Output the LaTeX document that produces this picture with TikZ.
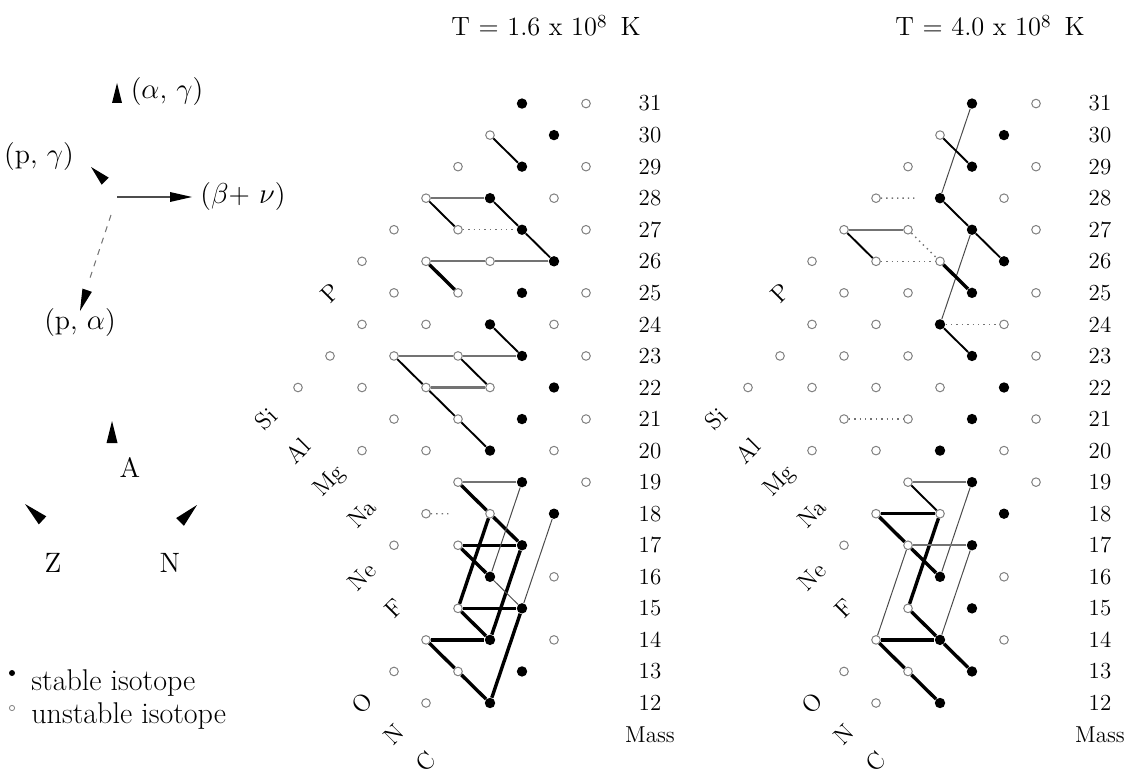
\documentclass[tikz,border=0pt]{standalone}
\usetikzlibrary{calc}
\tikzset{
 stab/.style={circle, fill=black, inner sep=0pt, minimum size=5.2pt},
 unst/.style={circle, draw=black!50, line width=0.5pt, inner sep=0pt, minimum size=4.3pt},
 thk/.style={line width=1.7pt},
 med/.style={line width=0.95pt},
 hz/.style={line width=1.15pt, draw=black!55},
 thn/.style={line width=0.5pt, draw=black!70},
 dotl/.style={line width=0.7pt, draw=black!55, dotted},
 masslbl/.style={font=\fontsize{11.5}{13}\selectfont, inner sep=0pt},
 elem/.style={font=\fontsize{12}{14}\selectfont, rotate=45, inner sep=0pt},
 leg/.style={font=\fontsize{14}{16}\selectfont, inner sep=0pt},
 legiso/.style={font=\fontsize{15}{17}\selectfont, inner sep=0pt, anchor=base west},
 ttl/.style={font=\fontsize{13.2}{15}\selectfont, inner sep=0pt, anchor=base},
}
\newcommand{\legtri}[4]{\fill[shift={(#1)}, rotate=#2] (0,0) -- (-#3,#4) -- (-#3,-#4) -- cycle;}
\newcommand{\isopanel}[2]{%
\begin{scope}[shift={(#2,703)}, x=16pt, y=15.775pt]
\foreach \ki/\ma in {1/31,2/30,1/29,0/28,1/27,2/26,1/25,0/24,1/23,2/22,1/21,0/20,1/19,2/18,1/17,0/16,1/15,0/14,1/13,0/12}
  \node[stab] (#1\ki x\ma) at (\ki,\ma-12) {};
\foreach \ki/\ma in {3/31,0/30,-1/29,3/29,-2/28,2/28,-3/27,-1/27,3/27,-4/26,-2/26,0/26,-3/25,-1/25,3/25,-4/24,-2/24,2/24,-5/23,-3/23,-1/23,3/23,-6/22,-4/22,-2/22,0/22,-3/21,-1/21,3/21,-4/20,-2/20,2/20,-1/19,3/19,-2/18,0/18,-3/17,-1/17,2/16,-1/15,-2/14,2/14,-3/13,-1/13,-2/12}
  \node[unst] (#1\ki x\ma) at (\ki,\ma-12) {};
\foreach \ma in {12,...,31}
  \node[masslbl] (#1M\ma) at (5,\ma-12) {\ma};
\node[masslbl] (#1Mass) at (5,-1) {Mass};
\node[elem] (#1C) at (-2,-1.85) {C};
\node[elem] (#1N) at (-3,-1) {N};
\node[elem] (#1O) at (-4,0) {O};
\node[elem] (#1F) at (-3,3) {F};
\node[elem] (#1Ne) at (-4,4) {Ne};
\node[elem] (#1Na) at (-4,6) {Na};
\node[elem] (#1Mg) at (-5,7) {Mg};
\node[elem] (#1Al) at (-6,8) {Al};
\node[elem] (#1Si) at (-7,9) {Si};
\node[elem] (#1P) at (-5,13) {P};
\end{scope}}
\begin{document}
\begin{tikzpicture}[x=0.5pt,y=-0.5pt]
\useasboundingbox (0,0) rectangle (1134,775);

% ---------- titles ----------
\node[ttl] (t1) at (546,36) {T = 1.6 x 10\textsuperscript{8}\, K};
\node[ttl] (t2) at (990,36) {T = 4.0 x 10\textsuperscript{8}\, K};

% ---------- legend: reaction directions ----------
\coordinate (ag) at (117,83);
\coordinate (pg) at (91,167);
\coordinate (lo) at (117,197);
\coordinate (bt) at (172,197);
\coordinate (bh) at (192,197);
\coordinate (ds) at (111,215);
\coordinate (de) at (89,281);
\coordinate (pa) at (80,311);
\legtri{ag}{90}{20}{5}
\legtri{pg}{135}{20}{5}
\draw[line width=0.6pt, black!70] (lo) -- (bt);
\legtri{bh}{0}{22}{5}
\draw[line width=0.5pt, black!55, dashed] (ds) -- (de);
\legtri{pa}{251}{22}{5}
\node[leg] (lag) at (167,92) {(\(\alpha\), \(\gamma\))};
\node[leg] (lpg) at (39,157) {(p, \(\gamma\))};
\node[leg] (lbn) at (243,197) {(\(\beta\)+ \(\nu\))};
\node[leg] (lpa) at (80,323) {(p, \(\alpha\))};

% ---------- legend: axes ----------
\coordinate (at) at (112,421);
\coordinate (zt) at (25,504);
\coordinate (nt) at (197,505);
\legtri{at}{90}{22}{5.5}
\legtri{zt}{137}{24}{5.5}
\legtri{nt}{45}{24}{5.5}
\node[leg] (lA) at (130,468) {A};
\node[leg] (lZ) at (53,563) {Z};
\node[leg] (lN) at (170,563) {N};

% ---------- legend: isotopes ----------
\node[circle, fill=black, inner sep=0pt, minimum size=3pt] (ls) at (12,673) {};
\node[circle, draw=black!50, line width=0.4pt, inner sep=0pt, minimum size=2.6pt] (lu) at (12,708) {};
\node[legiso] (lst) at (31,690) {stable isotope};
\node[legiso] (lut) at (31,723) {unstable isotope};

% ---------- panels ----------
\isopanel{a}{490}
\isopanel{b}{940}

% ---------- connections, T = 1.6e8 K ----------
\draw[med] (a0x30) -- (a1x29);
\draw[med] (a0x28) -- (a1x27) -- (a2x26);
\draw[med] (a-2x28) -- (a-1x27);
\draw[med] (a0x24) -- (a1x23);
\draw[med] (a-3x23) -- (a-2x22) -- (a-1x21) -- (a0x20);
\draw[med] (a-1x23) -- (a0x22);
\draw[thk] (a-2x26) -- (a-1x25);
\draw[thk] (a-1x19) -- (a0x18) -- (a1x17);
\draw[thk] (a-1x17) -- (a0x16);
\draw[thk] (a0x18) -- (a-1x15);
\draw[thk] (a1x17) -- (a0x14);
\draw[thk] (a1x15) -- (a0x12);
\draw[thk] (a-1x17) -- (a1x17);
\draw[thk] (a-1x15) -- (a1x15);
\draw[thk] (a-1x15) -- (a0x14);
\draw[thk] (a-2x14) -- (a0x14);
\draw[thk] (a-2x14) -- (a-1x13) -- (a0x12);
\draw[hz] (a-2x28) -- (a0x28);
\draw[hz] (a-2x26) -- (a0x26) -- (a2x26);
\draw[hz] (a-3x23) -- (a-1x23) -- (a1x23);
\draw[hz] (a-2x22) -- (a0x22);
\draw[hz] (a-1x19) -- (a1x19);
\draw[thn] (a1x19) -- (a0x16);
\draw[thn] (a2x18) -- (a1x15);
\draw[thn] (a0x16) -- (a1x15);
\coordinate (a18e) at ($(a-2x18)!0.4!(a0x18)$);
\draw[dotl] (a-1x27) -- (a1x27);
\draw[dotl] (a-2x18) -- (a18e);

% ---------- connections, T = 4.0e8 K ----------
\draw[thn] (b1x31) -- (b0x28);
\draw[thn] (b1x27) -- (b0x24);
\draw[thn] (b1x19) -- (b0x16);
\draw[thn] (b-1x17) -- (b-2x14);
\draw[thn] (b1x17) -- (b0x14);
\draw[med] (b0x30) -- (b1x29);
\draw[med] (b0x28) -- (b1x27) -- (b2x26);
\draw[med] (b-3x27) -- (b-2x26);
\draw[med] (b0x24) -- (b1x23);
\draw[med] (b-1x19) -- (b0x18);
\draw[thk] (b0x26) -- (b1x25);
\draw[thk] (b-2x18) -- (b0x18);
\draw[thk] (b-2x18) -- (b-1x17) -- (b0x16);
\draw[thk] (b0x18) -- (b-1x15);
\draw[thk] (b-1x15) -- (b0x14);
\draw[thk] (b-2x14) -- (b0x14);
\draw[thk] (b0x14) -- (b1x13);
\draw[thk] (b-2x14) -- (b-1x13) -- (b0x12);
\draw[hz] (b-3x27) -- (b-1x27);
\draw[hz] (b-1x19) -- (b1x19);
\draw[hz] (b-1x17) -- (b1x17);
\coordinate (b28e) at ($(b-2x28)!0.6!(b0x28)$);
\draw[dotl] (b-2x28) -- (b28e);
\draw[dotl] (b-2x26) -- (b0x26);
\draw[dotl] (b0x24) -- (b2x24);
\draw[dotl] (b-3x21) -- (b-1x21);
\draw[dotl] (b-1x27) -- (b0x26);
\end{tikzpicture}
\end{document}
